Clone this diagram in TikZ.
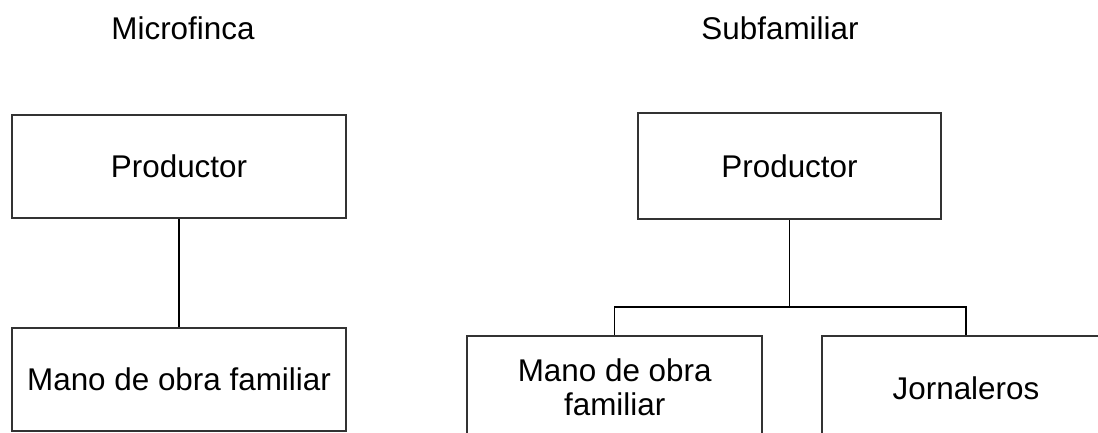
\documentclass[tikz,border=0pt]{standalone}
\usepackage{fontspec}
\setmainfont{Liberation Sans}
\begin{document}
\begin{tikzpicture}[x=0.5pt,y=-0.5pt,
  box/.style={draw=black!80,line width=1pt,rectangle,inner sep=0pt},
  link/.style={draw=black,line width=0.7pt},
  big/.style={font=\fontsize{15.7}{17}\selectfont}]
\useasboundingbox (0,0) rectangle (1098,433);
\clip (0,0) rectangle (1098,433);
\node[big,anchor=base] (t1) at (183,40) {Microfinca};
\node[big,anchor=base] (t2) at (780,40) {Subfamiliar};
\node[box,big,minimum width=167pt,minimum height=51.5pt] (p1) at (179,166.5) {Productor};
\node[box,big,minimum width=167pt,minimum height=51.5pt] (m1) at (179,379.5) {Mano de obra familiar};
\node[box,big,minimum width=151.5pt,minimum height=53pt] (p2) at (789.5,166) {Productor};
\node[box,big,align=center,minimum width=147.5pt,minimum height=51.5pt] (m2) at (614.7,387.5) {Mano de obra\\familiar};
\node[box,minimum width=149pt,minimum height=51.5pt] (j) at (971,387.5) {};
\node[big] (jt) at (966,388) {Jornaleros};
\coordinate (split) at (789.5,307);
\draw[link] (p1.south) -- (m1.north);
\draw[link] (p2.south) -- (split);
\draw[link] (m2.north) |- (split) -| (jt |- j.north);
\end{tikzpicture}
\end{document}
